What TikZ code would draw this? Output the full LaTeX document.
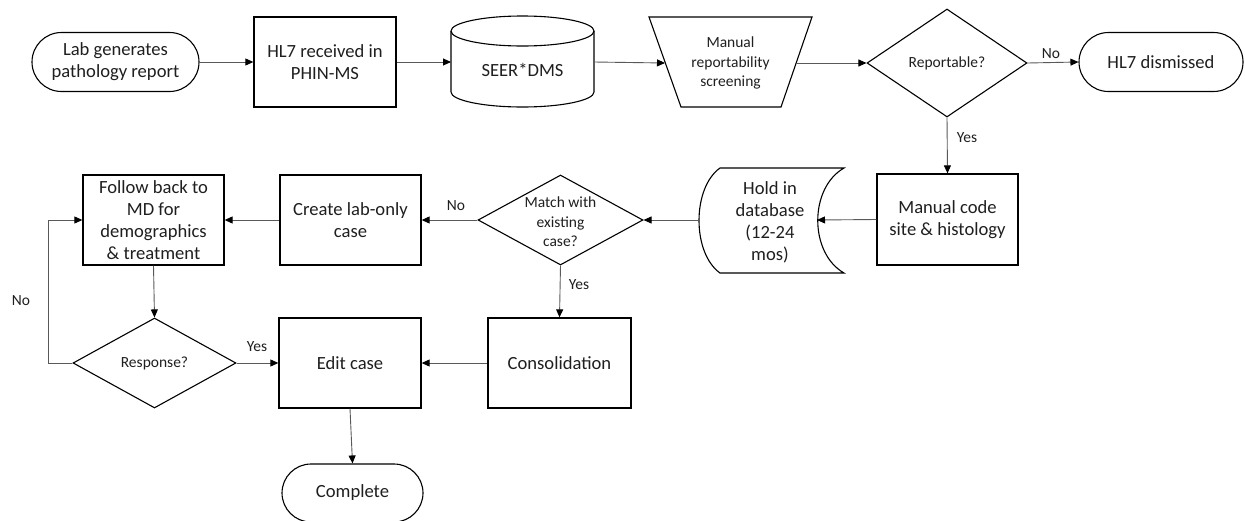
\documentclass[tikz,border=0pt]{standalone}
\usepackage{fontspec}
\setmainfont{Carlito}
\usetikzlibrary{shapes.geometric,shapes.misc,arrows.meta}

\begin{document}
\begin{tikzpicture}[x=1pt,y=-1pt,
  font=\fontsize{18.6}{22}\selectfont,
  every node/.style={text=black!88},
  box/.style={draw=black, line width=1.3pt, minimum width=141pt, minimum height=90pt, align=center, inner sep=0pt},
  term/.style={draw=black, rounded rectangle, line width=1.1pt, minimum height=59pt, align=center, inner sep=0pt},
  dia/.style={draw=black, diamond, line width=1.1pt, inner sep=0pt},
  outline/.style={draw=black, line width=1.1pt},
  small/.style={font=\fontsize{15.5}{19.5}\selectfont, align=center},
  port/.style={inner sep=0pt, outer sep=0pt, draw=none, align=center},
  conn/.style={draw=black!65, line width=0.9pt, -{Triangle[length=8pt,width=7pt,color=black]}},
  lbl/.style={font=\fontsize{15.5}{19}\selectfont, inner sep=0pt}
]
\useasboundingbox (0,0) rectangle (1245,520);

% ---- top row ----
\node[term, minimum width=167pt] (start) at (115.5,62) {Lab generates\\pathology report};
\node[box, minimum width=142pt] (hl7) at (325,62) {HL7 received in\\PHIN-MS};

% database cylinder
\draw[outline] (451,31) -- (451,92) arc[start angle=180, end angle=0, x radius=71.5, y radius=15] -- (594,31);
\draw[outline] (522.5,31) ellipse[x radius=71.5, y radius=15];
\node[port, minimum width=143pt, minimum height=91pt] (seer) at (522.5,62) {};
\node[port] (seertxt) at (522.5,70) {SEER*DMS};

% manual operation trapezoid
\draw[outline] (649,17) -- (812,17) -- (781,107) -- (681,107) -- cycle;
\node[port, small, minimum width=131pt, minimum height=90pt] (trap) at (730.5,63) {Manual\\reportability\\screening};

\node[dia, minimum width=160pt, minimum height=108pt] (rep) at (947,63) {};
\node[small] (reptxt) at (rep) {Reportable?};
\node[term, minimum width=164pt] (dis) at (1161,62) {HL7 dismissed};

% ---- middle row ----
\node[box, minimum width=141pt, minimum height=91pt] (code) at (947.5,219.5) {Manual code\\site \& histology};

% stored data shape
\draw[outline] (720,168) -- (844,168)
  .. controls (809,188) and (809,253) .. (844,273) -- (720,273)
  .. controls (692,253) and (692,188) .. (720,168) -- cycle;
\node[port, minimum width=118pt, minimum height=105pt] (hold) at (758,220) {};
\node[port] (holdtxt) at (770,222) {Hold in\\database\\(12-24\\mos)};

\node[dia, minimum width=165pt, minimum height=90pt] (match) at (560.5,220) {};
\node[small] (matchtxt) at (560.5,222) {Match with\\existing\\case?};
\node[box] (create) at (350.5,220) {Create lab-only\\case};
\node[box] (follow) at (153.5,220) {Follow back to\\MD for\\demographics\\\& treatment};

% ---- bottom rows ----
\node[box, minimum width=143pt] (consol) at (559.5,363) {Consolidation};
\node[box, minimum width=142pt] (edit) at (350,363) {Edit case};
\node[dia, minimum width=163pt, minimum height=90pt] (resp) at (154.5,363) {};
\node[small] (resptxt) at (resp) {Response?};
\node[term, minimum width=141pt, minimum height=58pt] (comp) at (352.5,493) {Complete};

% ---- connectors ----
\draw[conn] (start.east) -- (hl7.west);
\draw[conn] (hl7.east) -- (seer.west);
\draw[conn] (seer.east) -- (trap.west);
\draw[conn] (trap.east) -- (rep.west);
\draw[conn] (rep.east) -- (dis.west);
\draw[conn] (rep.south) -- (code.north);
\draw[conn] (code.west) -- (hold.east);
\draw[conn] (hold.west) -- (match.east);
\draw[conn] (match.west) -- (create.east);
\draw[conn] (create.west) -- (follow.east);
\draw[conn] (follow.south) -- (resp.north);
\draw[conn] (resp.east) -- (edit.west);
\draw[conn] (match.south) -- (consol.north);
\draw[conn] (consol.west) -- (edit.east);
\draw[conn] (edit.south) -- (comp.north);
\coordinate (bend) at (48,363);
\draw[conn] (resp.west) -- (bend) |- (follow.west);

% ---- branch labels ----
\node[lbl] (lno1) at (1051,54) {No};
\node[lbl] (lyes1) at (967,138) {Yes};
\node[lbl] (lno2) at (456,206) {No};
\node[lbl] (lyes2) at (579,285) {Yes};
\node[lbl] (lyes3) at (257,347) {Yes};
\node[lbl] (lno3) at (21,301) {No};
\end{tikzpicture}
\end{document}
